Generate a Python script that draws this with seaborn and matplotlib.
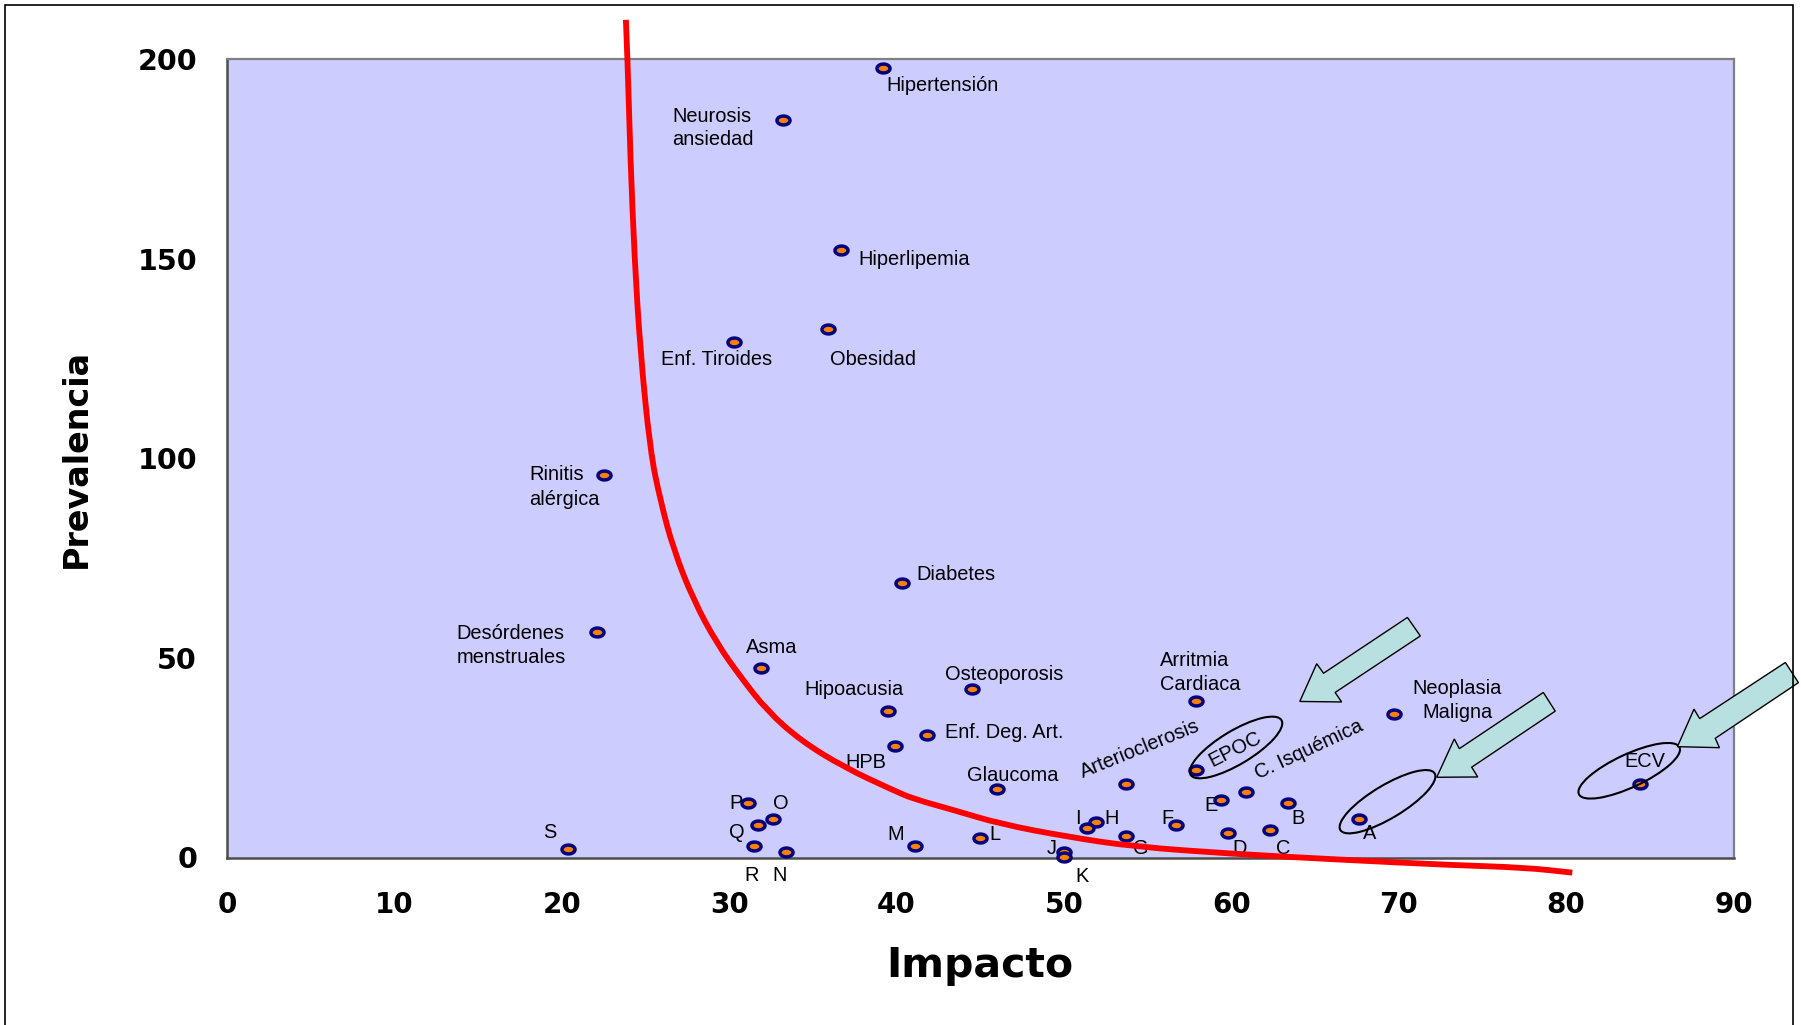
import numpy as np
import pandas as pd
import matplotlib
matplotlib.use("Agg")
import matplotlib.pyplot as plt
import matplotlib.path as mpath
import matplotlib.transforms as mtransforms
from matplotlib.markers import MarkerStyle
from matplotlib.patches import Ellipse, Polygon, Rectangle, PathPatch
import seaborn as sns

# ---------------------------------------------------------------- datos
enfermedades = [
    "Hipertensión", "Neurosis\nansiedad", "Hiperlipemia", "Obesidad",
    "Enf. Tiroides", "Rinitis\nalérgica", "Diabetes", "Desórdenes\nmenstruales",
    "Asma", "Osteoporosis", "Hipoacusia", "Enf. Deg. Art.", "HPB", "Glaucoma",
    "Arritmia\nCardiaca", "Neoplasia\nMaligna", "Arterioclerosis", "EPOC",
    "C. Isquémica", "ECV",
    "A", "B", "C", "D", "E", "F", "G", "H", "I", "J",
    "K", "L", "M", "N", "O", "P", "Q", "R", "S",
]
impacto = [
    39.2, 33.2, 36.7, 35.9,
    30.3, 22.5, 40.3, 22.1,
    31.9, 44.5, 39.5, 41.8, 39.9, 46.0,
    57.9, 69.7, 53.7, 57.9,
    60.9, 84.4,
    67.6, 63.4, 62.3, 59.8, 59.4, 56.7, 53.7, 51.9, 51.4, 50.0,
    50.0, 45.0, 41.1, 33.4, 32.6, 31.1, 31.7, 31.5, 20.4,
]
prevalencia = [
    197.8, 184.8, 152.3, 132.5,
    129.1, 95.8, 68.7, 56.4,
    47.6, 42.3, 36.7, 30.6, 27.9, 17.1,
    39.3, 36.0, 18.4, 21.8,
    16.4, 18.4,
    9.6, 13.6, 6.9, 6.1, 14.3, 8.1, 5.5, 8.9, 7.5, 1.5,
    0.2, 4.8, 2.8, 1.5, 9.6, 13.6, 8.2, 2.8, 2.1,
]

# curva límite trazada a mano sobre el gráfico
curva_impacto = [23.83, 23.93, 24.10, 24.35, 24.69, 25.28, 25.88, 26.68, 27.87,
                 29.27, 30.69, 32.26, 34.27, 36.87, 39.83, 41.0, 43.4, 46.2,
                 50.2, 54.2, 60.15, 66.1, 73.1, 77.5, 80.37]
curva_prevalencia = [209.9, 200.0, 175.0, 150.0, 127.0, 102.0, 89.6, 77.1, 64.5,
                     53.6, 45.2, 36.8, 29.3, 22.6, 16.8, 14.7, 11.9, 8.4,
                     5.2, 2.7, 0.9, -0.45, -1.9, -2.5, -3.8]

x_ticks = [0, 10, 20, 30, 40, 50, 60, 70, 80, 90]
y_ticks = [0, 50, 100, 150, 200]

# ---------------------------------------------------------------- estilo
sns.set_style("white")
plt.rcParams["font.family"] = ["Liberation Sans", "DejaVu Sans"]
plt.rcParams["text.color"] = "black"
plt.rcParams["axes.labelcolor"] = "black"
plt.rcParams["xtick.color"] = "black"
plt.rcParams["ytick.color"] = "black"

W, H = 1801, 1025
fig = plt.figure(figsize=(W / 100, H / 100), dpi=100, facecolor="white")
ax_l, ax_r, ax_t, ax_b = 227.0, 1733.5, 59.3, 857.5
ax = fig.add_axes([ax_l / W, (H - ax_b) / H, (ax_r - ax_l) / W, (ax_b - ax_t) / H])
ax.set_facecolor("#CCCCFF")
ax.set_xlim(0, 90)
ax.set_ylim(0, 200)

# marcador elíptico naranja con borde azul marino
t = np.linspace(0, 2 * np.pi, 48)
marcador = MarkerStyle(mpath.Path(np.column_stack([np.cos(t), 0.68 * np.sin(t)]), closed=True))

df = pd.DataFrame({"Impacto": impacto, "Prevalencia": prevalencia, "Enfermedad": enfermedades})
sns.scatterplot(data=df, x="Impacto", y="Prevalencia", ax=ax, marker=marcador, s=88,
                color="#FF8000", edgecolor="#000080", linewidth=2.5, legend=False,
                zorder=4, clip_on=False)

# curva suavizada: los puntos leídos hacen de vértices de control (Bézier cuadrática
# entre puntos medios), dibujada sobre la escala de datos del eje
cx = np.asarray(curva_impacto)
cy = np.asarray(curva_prevalencia)
verts = [(cx[0], cy[0])]
codes = [mpath.Path.MOVETO]
for i in range(1, len(cx) - 1):
    verts += [(cx[i], cy[i]), ((cx[i] + cx[i + 1]) / 2, (cy[i] + cy[i + 1]) / 2)]
    codes += [mpath.Path.CURVE3, mpath.Path.CURVE3]
verts.append((cx[-1], cy[-1]))
codes.append(mpath.Path.LINETO)
ax.add_patch(PathPatch(mpath.Path(verts, codes), fill=False, edgecolor="#FF0000",
                       linewidth=4.2, capstyle="butt", joinstyle="round",
                       zorder=6, clip_on=False))

# ---------------------------------------------------------------- etiquetas
# (alineación, dx, [dy de cada línea hasta su línea base]) en píxeles respecto al punto
etiquetas = {
    "Hipertensión": ("left", 3.4, [23.4]),
    "Neurosis\nansiedad": ("left", -110.3, [1.7, 25.0]),
    "Hiperlipemia": ("left", 16.6, [15.0]),
    "Obesidad": ("left", 2.3, [36.3]),
    "Enf. Tiroides": ("left", -73.4, [22.7]),
    "Rinitis\nalérgica": ("left", -74.7, [5.0, 30.0]),
    "Diabetes": ("left", 14.7, [-3.3]),
    "Desórdenes\nmenstruales": ("left", -140.6, [6.6, 31.0]),
    "Asma": ("left", -14.9, [-15.0]),
    "Osteoporosis": ("left", -26.4, [-8.7]),
    "Hipoacusia": ("left", -83.8, [-15.7]),
    "Enf. Deg. Art.": ("left", 18.8, [3.0]),
    "HPB": ("left", -49.9, [21.7]),
    "Glaucoma": ("left", -29.7, [-8.3]),
    "Arritmia\nCardiaca": ("left", -36.0, [-35.0, -10.7]),
    "Neoplasia\nMaligna": ("center", 63.8, [-19.4, 4.6]),
    "ECV": ("center", 5.3, [-17.0]),
    "A": ("left", 4.4, [20.3]), "B": ("left", 2.7, [20.7]),
    "C": ("left", 6.0, [24.0]), "D": ("left", 4.6, [21.0]),
    "E": ("left", -16.7, [10.4]), "F": ("left", -14.3, [-1.0]),
    "G": ("left", 7.0, [18.3]), "H": ("left", 8.6, [2.0]),
    "I": ("left", -12.3, [-3.7]), "J": ("left", -17.7, [2.3]),
    "K": ("left", 11.3, [25.0]), "L": ("left", 9.3, [1.7]),
    "M": ("left", -27.6, [-6.3]), "N": ("left", -13.7, [29.3]),
    "O": ("left", 0.0, [-10.0]), "P": ("left", -18.3, [6.0]),
    "Q": ("left", -29.0, [13.6]), "R": ("left", -9.8, [34.7]),
    "S": ("left", -25.8, [-11.6]),
}
# etiquetas inclinadas: (dx, dy del centro, ángulo)
inclinadas = {
    "Arterioclerosis": (13.6, -35.3, 22),
    "EPOC": (39.0, -21.5, 27),
    "C. Isquémica": (62.2, -42.1, 25),
}

TXT = dict(fontsize=14.4, color="black", zorder=5, annotation_clip=False)
for nombre, xv, yv in zip(enfermedades, impacto, prevalencia):
    if nombre in inclinadas:
        dx, dy, ang = inclinadas[nombre]
        ax.annotate(nombre, xy=(xv, yv), xytext=(dx, -dy), textcoords="offset pixels",
                    ha="center", va="center", rotation=ang, rotation_mode="anchor", **TXT)
        continue
    ha, dx, dys = etiquetas[nombre]
    for linea, dy in zip(nombre.split("\n"), dys):
        ax.annotate(linea, xy=(xv, yv), xytext=(dx, -dy), textcoords="offset pixels",
                    ha=ha, va="baseline", **TXT)

# ---------------------------------------------------------------- elipses
# centro (datos), ancho y alto en píxeles, ángulo
elipses = [((60.28, 27.57), 106, 33.5, 31), ((69.33, 13.98), 110, 33, 31),
           ((83.77, 21.73), 111, 33, 25)]
for (ex, ey), w, h, ang in elipses:
    tr = fig.dpi_scale_trans + mtransforms.ScaledTranslation(ex, ey, ax.transData)
    ax.add_patch(Ellipse((0, 0), w / 100, h / 100, angle=ang, transform=tr,
                         fill=False, edgecolor="black", linewidth=1.5, zorder=5, clip_on=False))

# ---------------------------------------------------------------- flechas de bloque
flechas = [
    [(64.09, 39.10), (65.10, 48.55), (65.51, 46.17), (70.52, 60.15),
     (71.29, 55.51), (66.20, 41.35), (66.59, 38.97)],
    [(72.27, 20.10), (73.32, 29.70), (73.62, 27.27), (78.64, 41.35),
     (79.35, 36.67), (74.36, 22.63), (74.72, 20.18)],
    [(86.65, 27.77), (87.64, 37.17), (87.98, 34.79), (93.10, 48.87),
     (93.88, 43.81), (88.91, 29.87), (89.16, 27.52)],
]
for pts in flechas:
    ax.add_patch(Polygon(pts, closed=True, facecolor="#B8E0E0", edgecolor="black",
                         linewidth=1.0, zorder=7, clip_on=False))

# ---------------------------------------------------------------- ejes
ax.set_xticks(x_ticks)
ax.set_xticklabels([str(v) for v in x_ticks], fontfamily="DejaVu Sans",
                   fontweight="bold", fontsize=20, color="black")
ax.set_yticks(y_ticks)
ax.set_yticklabels([str(v) for v in y_ticks], fontfamily="DejaVu Sans",
                   fontweight="bold", fontsize=20.5, color="black")
ax.tick_params(axis="x", direction="out", length=6.5, width=1.0, color="#333333", pad=17.5)
ax.tick_params(axis="y", direction="out", length=8.6, width=1.0, color="#333333", pad=13)

ax.set_xlabel("Impacto", fontfamily="DejaVu Sans", fontweight="bold", fontsize=29.5,
              color="black")
ax.xaxis.set_label_coords(0.5, -0.111)
ax.set_ylabel("Prevalencia", fontfamily="DejaVu Sans", fontweight="bold", fontsize=24,
              color="black")
ax.yaxis.set_label_coords(-0.0893, 0.5)

for lado in ("top", "right"):
    ax.spines[lado].set_color("#808080")
    ax.spines[lado].set_linewidth(1.6)
for lado in ("left", "bottom"):
    ax.spines[lado].set_color("#4D4D4D")
    ax.spines[lado].set_linewidth(1.8)
ax.grid(False)

# marco exterior del gráfico
fig.patches.append(Rectangle((4.6 / W, -0.05), (1792.6 - 4.6) / W, 1.05 - 4.7 / H,
                             transform=fig.transFigure, fill=False, edgecolor="black",
                             linewidth=1.2, zorder=0))

fig.savefig("out.png", dpi=100, facecolor="white")
